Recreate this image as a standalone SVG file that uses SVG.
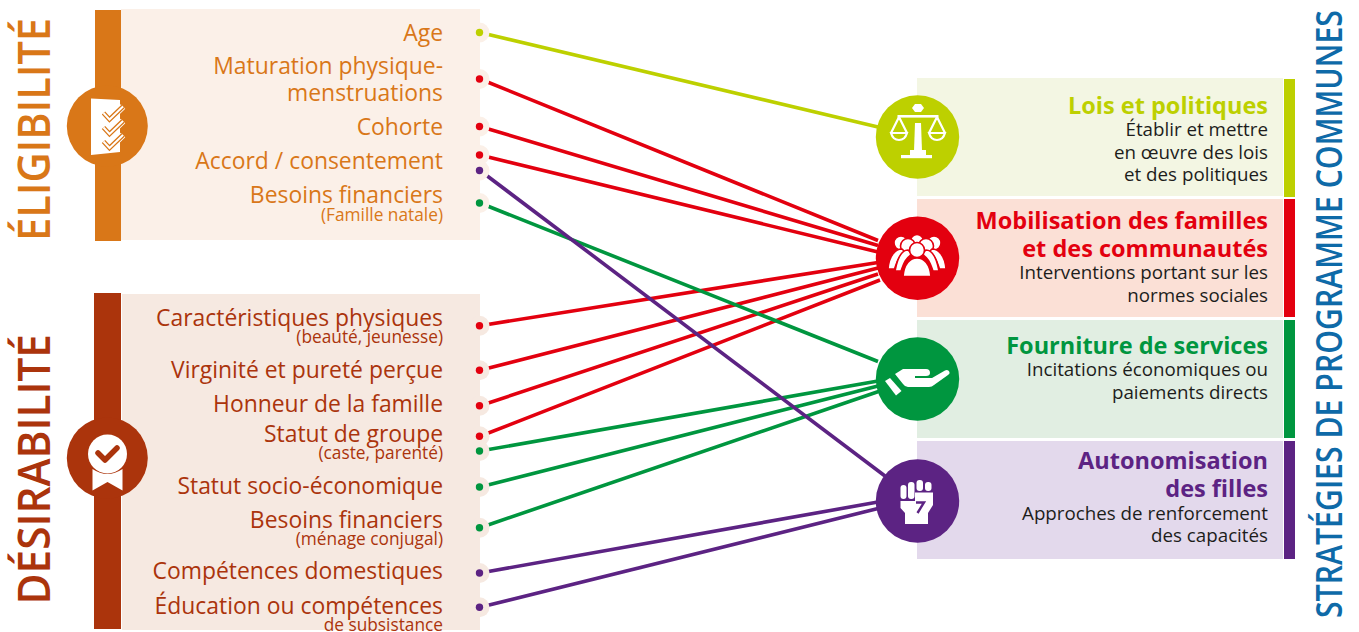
<svg xmlns="http://www.w3.org/2000/svg" width="1359" height="632" viewBox="0 0 1359 632">
<style>
text{font-family:"Open Sans","Noto Sans","Liberation Sans",sans-serif;text-anchor:end}
.e{fill:#d97718;font-size:22.900px}.es{fill:#d97718;font-size:17.300px}
.d{fill:#ab340c;font-size:22.900px}.ds{fill:#ab340c;font-size:17.300px}
.t{font-size:23.500px;font-weight:700}.b{font-size:18.750px;fill:#1d1d1b}
.v{text-anchor:start;font-weight:600}
.c{fill:none;stroke-width:3.600}
.lime{stroke:#bdd000}.red{stroke:#e3000f}.grn{stroke:#00963f}.pur{stroke:#5c2383}
.dl{fill:#bdd000}.dr{fill:#e3000f}.dg{fill:#00963f}.dp{fill:#5c2383}
.hw{fill:none;stroke:#fff;stroke-width:2.200}
</style>
<g id="eligibilite">
<rect x="121" y="9" width="359" height="231" fill="#fbf0e8"/>
<rect x="95" y="10" width="26" height="231" fill="#d97718"/>
<circle cx="107.300" cy="126" r="40.500" fill="#d97718"/>
<path d="M91 98.500L120 100V152L91 155Z" fill="#fff"/>
<path d="M103.500 113L109.500 119.500L123 106.500M103.500 127.500L109.500 134L123 121M103.500 141.500L109.500 148L123 135" fill="none" stroke="#fff" stroke-width="6.500"/>
<path d="M103.500 113L109.500 119.500L123 106.500M103.500 127.500L109.500 134L123 121M103.500 141.500L109.500 148L123 135" fill="none" stroke="#d97718" stroke-width="4.600"/>
<path d="M103.500 113L109.500 119.500L123 106.500M103.500 127.500L109.500 134L123 121M103.500 141.500L109.500 148L123 135" fill="none" stroke="#fff" stroke-width="2"/>
<text class="e" x="443" y="40.500">Age</text>
<text class="e" x="443" y="74">Maturation physique-</text>
<text class="e" x="443" y="101">menstruations</text>
<text class="e" x="443" y="135">Cohorte</text>
<text class="e" x="443" y="169">Accord / consentement</text>
<text class="e" x="443" y="203">Besoins financiers</text>
<text class="es" x="443" y="221">(Famille natale)</text>
<text class="v" transform="translate(50 241) rotate(-90)" font-size="45" fill="#d97718" textLength="223" lengthAdjust="spacingAndGlyphs">ÉLIGIBILITÉ</text>
</g>
<g id="desirabilite">
<rect x="122" y="294" width="358" height="336" fill="#f6e9e1"/>
<rect x="94" y="293" width="27" height="336" fill="#ab340c"/>
<circle cx="107.300" cy="458" r="40.500" fill="#ab340c"/>
<path d="M92.500 469V490.500L107.500 482L122.500 490.500V469Q107.500 479 92.500 469Z" fill="#fff"/>
<circle cx="107.500" cy="454" r="19.500" fill="#fff"/>
<path d="M98 453L105 460L117 448" fill="none" stroke="#ab340c" stroke-width="5.500" stroke-linecap="round" stroke-linejoin="round"/>
<text class="d" x="443" y="326">Caractéristiques physiques</text>
<text class="ds" x="443" y="343">(beauté, jeunesse)</text>
<text class="d" x="443" y="378">Virginité et pureté perçue</text>
<text class="d" x="443" y="412">Honneur de la famille</text>
<text class="d" x="443" y="442">Statut de groupe</text>
<text class="ds" x="443" y="459">(caste, parenté)</text>
<text class="d" x="443" y="494">Statut socio-économique</text>
<text class="d" x="443" y="528">Besoins financiers</text>
<text class="ds" x="443" y="545">(ménage conjugal)</text>
<text class="d" x="443" y="579">Compétences domestiques</text>
<text class="d" x="443" y="614">Éducation ou compétences</text>
<text class="ds" x="443" y="631">de subsistance</text>
<text class="v" transform="translate(50 604.500) rotate(-90)" font-size="45" fill="#ab340c" textLength="270.500" lengthAdjust="spacingAndGlyphs">DÉSIRABILITÉ</text>
</g>
<g id="connectors">
<path class="c lime" d="M480 32.500L878 127"/>
<path class="c red" d="M480 79L878 240.500M480 126.500L878 245.500M480 155L878 252M480 325.700L878 262.500M480 370.300L878 268M480 405.700L878 274M480 436.300L880 280"/>
<path class="c grn" d="M480 203L878 361.500M480 451L878 381M480 487L878 386M480 527.700L880 391"/>
<path class="c pur" d="M480 170.500L885 476M480 573L878 502M480 607.300L878 508.500"/>
</g>
<g id="dots">
<g fill="#fbf0e8"><circle cx="479.500" cy="32.500" r="10"/><circle cx="479.500" cy="79" r="10"/><circle cx="479.500" cy="126.500" r="10"/><circle cx="479.500" cy="155" r="10"/><circle cx="479.500" cy="170.500" r="10"/><circle cx="479.500" cy="203" r="10"/></g>
<g fill="#f6e9e1"><circle cx="479.500" cy="325.700" r="10"/><circle cx="479.500" cy="370.300" r="10"/><circle cx="479.500" cy="405.700" r="10"/><circle cx="479.500" cy="436.300" r="10"/><circle cx="479.500" cy="451" r="10"/><circle cx="479.500" cy="487" r="10"/><circle cx="479.500" cy="527.700" r="10"/><circle cx="479.500" cy="573" r="10"/><circle cx="479.500" cy="607.300" r="10"/></g>
<circle class="dl" cx="479.500" cy="32.500" r="3.700"/>
<g class="dr"><circle cx="479.500" cy="79" r="3.700"/><circle cx="479.500" cy="126.500" r="3.700"/><circle cx="479.500" cy="155" r="3.700"/><circle cx="479.500" cy="325.700" r="3.700"/><circle cx="479.500" cy="370.300" r="3.700"/><circle cx="479.500" cy="405.700" r="3.700"/><circle cx="479.500" cy="436.300" r="3.700"/></g>
<g class="dg"><circle cx="479.500" cy="203" r="3.700"/><circle cx="479.500" cy="451" r="3.700"/><circle cx="479.500" cy="487" r="3.700"/><circle cx="479.500" cy="527.700" r="3.700"/></g>
<g class="dp"><circle cx="479.500" cy="170.500" r="3.700"/><circle cx="479.500" cy="573" r="3.700"/><circle cx="479.500" cy="607.300" r="3.700"/></g>
</g>
<g id="lois">
<rect x="917" y="78" width="366" height="118" fill="#f3f6e3"/>
<rect x="1284" y="79" width="11" height="118" fill="#bdd000"/>
<circle cx="917.500" cy="137" r="41.700" fill="#bdd000"/>
<g fill="#fff">
<polygon points="912,108 915,104 921,104 924,108 921,112 915,112"/>
<rect x="897.500" y="115" width="41" height="2.600"/>
<path d="M915 123H921L922 151H914Z"/>
<rect x="910" y="150" width="16" height="5"/>
<rect x="901" y="155" width="31" height="3.200"/>
</g>
<path class="hw" d="M899 117L891 133M899 117L907 133M891 133H907Q905 140 899 140Q893 140 891 133ZM937 117L929 133M937 117L945 133M929 133H945Q943 140 937 140Q931 140 929 133Z"/>
<text class="t" x="1268" y="114" fill="#bdd000">Lois et politiques</text>
<text class="b" x="1268" y="135.500">Établir et mettre</text>
<text class="b" x="1268" y="159">en œuvre des lois</text>
<text class="b" x="1268" y="181">et des politiques</text>
</g>
<g id="mobilisation">
<rect x="917" y="199" width="366" height="118" fill="#fbe0d6"/>
<rect x="1284" y="199" width="11" height="118" fill="#e3000f"/>
<circle cx="917.500" cy="258.300" r="41.700" fill="#e3000f"/>
<g fill="#fff" stroke="#e3000f" stroke-width="1.600">
<circle cx="901" cy="243" r="7"/><circle cx="934" cy="243" r="7"/><circle cx="917" cy="241" r="6.500"/>
<circle cx="908" cy="246" r="7.500"/><circle cx="926" cy="246" r="7.500"/>
<path d="M888 269C889 255 896 249 902 249L905 252C898 257 897 262 894.500 269Z"/>
<path d="M946 269C945 255 938 249 932 249L929 252C936 257 937 262 939.500 269Z"/>
<path d="M895 271C898 255 903 250 908 250L912 254C905 259 904 263 901 271Z"/>
<path d="M939 271C936 255 931 250 926 250L922 254C929 259 930 263 933 271Z"/>
<circle cx="917" cy="250" r="7.500"/>
<path d="M903 276.500C904 264 910 258 917 258C924 258 930 264 931 276.500Z"/>
</g>
<text class="t" x="1268" y="228.500" fill="#e3000f">Mobilisation des familles</text>
<text class="t" x="1268" y="256.500" fill="#e3000f">et des communautés</text>
<text class="b" x="1268" y="279">Interventions portant sur les</text>
<text class="b" x="1268" y="302">normes sociales</text>
</g>
<g id="fourniture">
<rect x="917" y="320" width="366" height="118" fill="#e1eee2"/>
<rect x="1284" y="320" width="11" height="118" fill="#00963f"/>
<circle cx="917.500" cy="379" r="41.700" fill="#00963f"/>
<g fill="#fff">
<path d="M885 381L890 378L901.500 391L896 395.500Z"/>
<path d="M895 374L903 369H926Q930 369 930 373Q930 376 926 376H916V378H932L945 370.500Q948 369 949.500 372Q950 374 948 375L934 385Q932 387 929 387H908Q905 387 903 384Z"/>
<path d="M915 376H927V378H915Z" fill="#00963f"/>
</g>
<text class="t" x="1268" y="353.500" fill="#00963f">Fourniture de services</text>
<text class="b" x="1268" y="376">Incitations économiques ou</text>
<text class="b" x="1268" y="398.500">paiements directs</text>
</g>
<g id="autonomisation">
<rect x="917" y="441" width="366" height="118" fill="#e3d9ec"/>
<rect x="1284" y="441" width="11" height="118" fill="#5c2383"/>
<circle cx="917.500" cy="501" r="41.700" fill="#5c2383"/>
<g fill="#fff">
<rect x="900.500" y="485" width="6" height="14" rx="3"/>
<rect x="908" y="482" width="6.500" height="17" rx="3"/>
<rect x="916.500" y="480" width="6.500" height="11" rx="3"/>
<rect x="925" y="482" width="6.500" height="9" rx="3"/>
<path d="M900.500 501H915V492.500H933V505L928 513V524H905V513L900.500 508Z"/>
</g>
<path d="M916 502.500H924L917.500 513" fill="none" stroke="#5c2383" stroke-width="2.400"/>
<text class="t" x="1268" y="468.500" fill="#5c2383">Autonomisation</text>
<text class="t" x="1268" y="496.500" fill="#5c2383">des filles</text>
<text class="b" x="1268" y="519.500">Approches de renforcement</text>
<text class="b" x="1268" y="542">des capacités</text>
</g>
<text id="strategies" class="v" transform="translate(1342 618) rotate(-90)" font-size="36" fill="#0e6aa8" textLength="608" lengthAdjust="spacingAndGlyphs">STRATÉGIES DE PROGRAMME COMMUNES</text>
</svg>
